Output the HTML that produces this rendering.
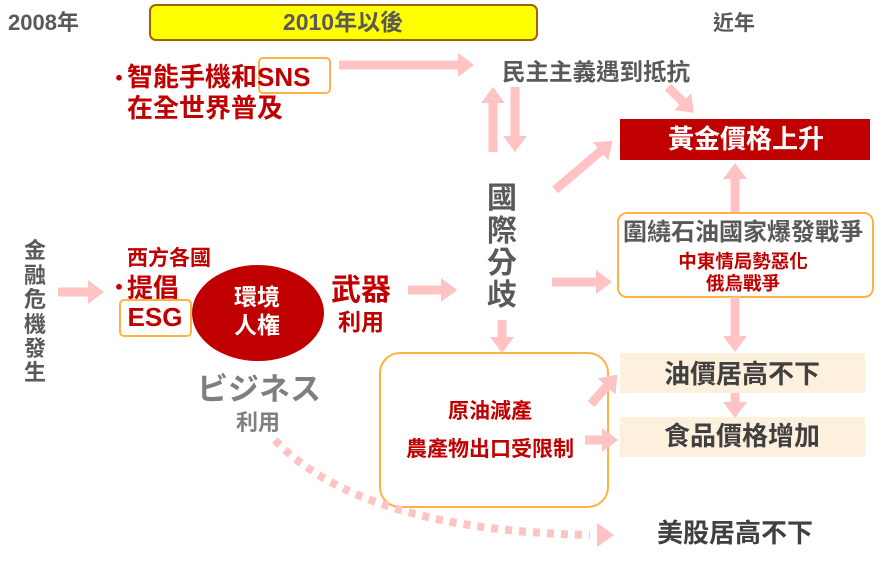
<!DOCTYPE html>
<html><head><meta charset="utf-8"><style>
html,body{margin:0;padding:0;background:#fff;}
svg{display:block;}
text{font-family:"Liberation Sans","Noto Sans CJK TC",sans-serif;font-weight:bold;}
</style></head><body>
<svg width="894" height="571" viewBox="0 0 894 571" xmlns="http://www.w3.org/2000/svg">
<defs>
<marker id="ah" markerUnits="userSpaceOnUse" markerWidth="16" markerHeight="24" refX="2" refY="12" orient="auto">
<polygon points="0,0 16,12 0,24" fill="#FFC3C3"/>
</marker>
</defs>

<rect x="150" y="5" width="387" height="35" rx="6" fill="#FFFF00" stroke="#9C6500" stroke-width="2"/>
<text x="343" y="30" font-size="23" fill="#595959" text-anchor="middle">2010年以後</text>
<text x="8" y="30" font-size="22" fill="#595959">2008年</text>
<text x="713" y="30" font-size="21" fill="#595959">近年</text>

<rect x="259" y="58" width="71" height="35" rx="4" fill="none" stroke="#FFB347" stroke-width="2"/>
<text x="108" y="86" font-size="22" fill="#C00000">・</text>
<text x="127" y="86" font-size="26" fill="#C00000">智能手機和SNS</text>
<text x="127" y="117" font-size="26" fill="#C00000">在全世界普及</text>

<text x="502" y="80" font-size="23.5" fill="#595959">民主主義遇到抵抗</text>

<rect x="620" y="119" width="250" height="41" fill="#C00000"/>
<text x="746" y="148" font-size="26" fill="#fff" text-anchor="middle">黃金價格上升</text>

<g font-size="30" fill="#595959" text-anchor="middle">
<text x="502" y="208">國</text>
<text x="502" y="241">際</text>
<text x="502" y="273">分</text>
<text x="502" y="305">歧</text>
</g>

<rect x="618" y="213" width="255" height="84" rx="9" fill="#fff" stroke="#FFB347" stroke-width="2"/>
<text x="743" y="240" font-size="24" fill="#595959" text-anchor="middle">圍繞石油國家爆發戰爭</text>
<text x="743" y="268" font-size="18.5" fill="#C00000" text-anchor="middle">中東情局勢惡化</text>
<text x="743" y="290" font-size="18.5" fill="#C00000" text-anchor="middle">俄烏戰爭</text>

<rect x="620" y="353" width="245" height="40" fill="#FDF0DC"/>
<text x="742" y="383" font-size="26" fill="#404040" text-anchor="middle">油價居高不下</text>
<rect x="620" y="417" width="245" height="40" fill="#FDF0DC"/>
<text x="742" y="445" font-size="26" fill="#404040" text-anchor="middle">食品價格增加</text>
<text x="735" y="542" font-size="26" fill="#404040" text-anchor="middle">美股居高不下</text>

<rect x="380" y="353" width="228" height="154" rx="20" fill="#fff" stroke="#FFB347" stroke-width="2"/>
<text x="490" y="418" font-size="21" fill="#C00000" text-anchor="middle">原油減產</text>
<text x="490" y="456" font-size="21" fill="#C00000" text-anchor="middle">農產物出口受限制</text>

<g font-size="22" fill="#595959" text-anchor="middle">
<text x="35" y="258">金</text>
<text x="35" y="283">融</text>
<text x="35" y="307">危</text>
<text x="35" y="332">機</text>
<text x="35" y="356">發</text>
<text x="35" y="380">生</text>
</g>

<text x="127" y="265" font-size="21" fill="#C00000">西方各國</text>
<text x="108" y="295" font-size="22" fill="#C00000">・</text>
<text x="127" y="297" font-size="26" fill="#C00000">提倡</text>
<rect x="120" y="300" width="71" height="36" rx="4" fill="none" stroke="#FFB347" stroke-width="2"/>
<text x="155" y="326" font-size="26" fill="#C00000" text-anchor="middle">ESG</text>

<ellipse cx="258" cy="313" rx="66" ry="48" fill="#C00000"/>
<text x="257" y="305" font-size="23" fill="#fff" text-anchor="middle">環境</text>
<text x="257" y="333" font-size="23" fill="#fff" text-anchor="middle">人権</text>

<text x="361" y="300" font-size="30" fill="#C00000" text-anchor="middle">武器</text>
<text x="361" y="330" font-size="23" fill="#C00000" text-anchor="middle">利用</text>

<text x="259" y="400" font-size="31" fill="#7F7F7F" text-anchor="middle">ビジネス</text>
<text x="258" y="430" font-size="22" fill="#7F7F7F" text-anchor="middle">利用</text>

<g stroke="#FFC3C3" stroke-width="9" fill="none" marker-end="url(#ah)">
<line x1="339" y1="65" x2="460" y2="65"/>
<line x1="493" y1="152" x2="493" y2="101"/>
<line x1="515" y1="87" x2="515" y2="138"/>
<line x1="668" y1="87" x2="684" y2="103"/>
<line x1="555" y1="190" x2="602" y2="150"/>
<line x1="552" y1="282" x2="598" y2="282"/>
<line x1="735" y1="212" x2="735" y2="177"/>
<line x1="735" y1="297" x2="735" y2="338"/>
<line x1="735" y1="393" x2="735" y2="404"/>
<line x1="502" y1="320" x2="502" y2="339"/>
<line x1="591" y1="404" x2="608" y2="385"/>
<line x1="585" y1="440" x2="604" y2="440"/>
<line x1="58" y1="292" x2="90" y2="292"/>
<line x1="408" y1="290" x2="443" y2="290"/>
<path d="M275,440 Q360,530 590,535" stroke-dasharray="7,7" stroke-width="8" marker-end="none"/>
</g>
<polygon points="597,523 614,535 597,547" fill="#FFC3C3"/>
</svg>
</body></html>
